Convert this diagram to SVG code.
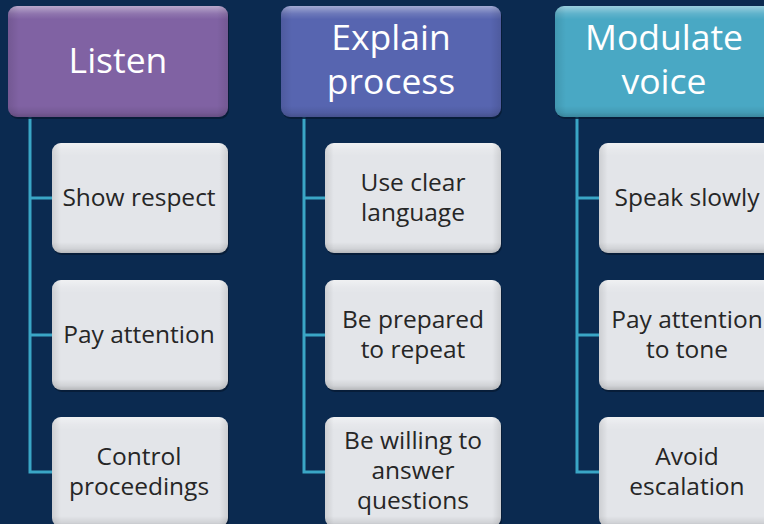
<svg xmlns="http://www.w3.org/2000/svg" width="764" height="524" viewBox="0 0 764 524">
  <defs>
    <!-- bevel overlays shared by all boxes -->
    <linearGradient id="bevelV" x1="0" y1="0" x2="0" y2="1">
      <stop offset="0" stop-color="#ffffff" stop-opacity="0.45"/>
      <stop offset="0.07" stop-color="#ffffff" stop-opacity="0.12"/>
      <stop offset="0.12" stop-color="#ffffff" stop-opacity="0"/>
      <stop offset="0.9" stop-color="#000000" stop-opacity="0"/>
      <stop offset="0.96" stop-color="#000000" stop-opacity="0.08"/>
      <stop offset="1" stop-color="#000000" stop-opacity="0.2"/>
    </linearGradient>
    <linearGradient id="bevelH" x1="0" y1="0" x2="1" y2="0">
      <stop offset="0" stop-color="#000000" stop-opacity="0.1"/>
      <stop offset="0.05" stop-color="#000000" stop-opacity="0"/>
      <stop offset="0.95" stop-color="#000000" stop-opacity="0"/>
      <stop offset="1" stop-color="#000000" stop-opacity="0.1"/>
    </linearGradient>
  </defs>
  <style>
    .bg { fill: #0b2a50; }
    .shadow { fill: #061a33; opacity: 0.8; }
    .bv { fill: url(#bevelV); }
    .bh { fill: url(#bevelH); }
    .child { fill: #e3e5e9; }
    .h1 { fill: #8062a3; }
    .h2 { fill: #5765b0; }
    .h3 { fill: #49a8c4; }
    .htext { font-family: "Open Sans", "Noto Sans", "Liberation Sans", sans-serif; font-size: 35.5px; fill: #ffffff; text-anchor: middle; }
    .ctext { font-family: "Open Sans", "Noto Sans", "Liberation Sans", sans-serif; font-size: 24.5px; fill: #262626; text-anchor: middle; }
    .conn { fill: none; stroke: #3aa6c6; stroke-width: 3; }
  </style>

  <rect class="bg" x="0" y="0" width="764" height="524"/>

  <!-- connectors -->
  <g id="connectors">
    <path class="conn" d="M30,117 V472 H52 M30,198 H52 M30,335 H52"/>
    <path class="conn" d="M304,117 V472 H325 M304,198 H325 M304,335 H325"/>
    <path class="conn" d="M577,117 V472 H599 M577,198 H599 M577,335 H599"/>
  </g>

  <!-- column 1 -->
  <g id="listen">
    <rect class="shadow" x="9" y="8" width="220" height="111" rx="9"/>
    <rect class="h1" x="8" y="6" width="220" height="111" rx="9"/>
    <rect class="bv" x="8" y="6" width="220" height="111" rx="9"/>
    <rect class="bh" x="8" y="6" width="220" height="111" rx="9"/>
    <text class="htext" x="118" y="73">Listen</text>
  </g>
  <g id="show-respect">
    <rect class="shadow" x="53" y="145" width="176" height="110" rx="9"/>
    <rect class="child" x="52" y="143" width="176" height="110" rx="9"/>
    <rect class="bv" x="52" y="143" width="176" height="110" rx="9"/>
    <rect class="bh" x="52" y="143" width="176" height="110" rx="9"/>
    <text class="ctext" x="139" y="206">Show respect</text>
  </g>
  <g id="pay-attention">
    <rect class="shadow" x="53" y="282" width="176" height="110" rx="9"/>
    <rect class="child" x="52" y="280" width="176" height="110" rx="9"/>
    <rect class="bv" x="52" y="280" width="176" height="110" rx="9"/>
    <rect class="bh" x="52" y="280" width="176" height="110" rx="9"/>
    <text class="ctext" x="139" y="343">Pay attention</text>
  </g>
  <g id="control-proceedings">
    <rect class="shadow" x="53" y="419" width="176" height="110" rx="9"/>
    <rect class="child" x="52" y="417" width="176" height="110" rx="9"/>
    <rect class="bv" x="52" y="417" width="176" height="110" rx="9"/>
    <rect class="bh" x="52" y="417" width="176" height="110" rx="9"/>
    <text class="ctext" x="139" y="465">Control</text>
    <text class="ctext" x="139" y="495">proceedings</text>
  </g>

  <!-- column 2 -->
  <g id="explain-process">
    <rect class="shadow" x="282" y="8" width="220" height="111" rx="9"/>
    <rect class="h2" x="281" y="6" width="220" height="111" rx="9"/>
    <rect class="bv" x="281" y="6" width="220" height="111" rx="9"/>
    <rect class="bh" x="281" y="6" width="220" height="111" rx="9"/>
    <text class="htext" x="391" y="50">Explain</text>
    <text class="htext" x="391" y="94">process</text>
  </g>
  <g id="use-clear-language">
    <rect class="shadow" x="326" y="145" width="176" height="110" rx="9"/>
    <rect class="child" x="325" y="143" width="176" height="110" rx="9"/>
    <rect class="bv" x="325" y="143" width="176" height="110" rx="9"/>
    <rect class="bh" x="325" y="143" width="176" height="110" rx="9"/>
    <text class="ctext" x="413" y="191">Use clear</text>
    <text class="ctext" x="413" y="221">language</text>
  </g>
  <g id="be-prepared">
    <rect class="shadow" x="326" y="282" width="176" height="110" rx="9"/>
    <rect class="child" x="325" y="280" width="176" height="110" rx="9"/>
    <rect class="bv" x="325" y="280" width="176" height="110" rx="9"/>
    <rect class="bh" x="325" y="280" width="176" height="110" rx="9"/>
    <text class="ctext" x="413" y="328">Be prepared</text>
    <text class="ctext" x="413" y="358">to repeat</text>
  </g>
  <g id="be-willing">
    <rect class="shadow" x="326" y="419" width="176" height="110" rx="9"/>
    <rect class="child" x="325" y="417" width="176" height="110" rx="9"/>
    <rect class="bv" x="325" y="417" width="176" height="110" rx="9"/>
    <rect class="bh" x="325" y="417" width="176" height="110" rx="9"/>
    <text class="ctext" x="413" y="449">Be willing to</text>
    <text class="ctext" x="413" y="479">answer</text>
    <text class="ctext" x="413" y="509">questions</text>
  </g>

  <!-- column 3 -->
  <g id="modulate-voice">
    <rect class="shadow" x="556" y="8" width="220" height="111" rx="9"/>
    <rect class="h3" x="555" y="6" width="220" height="111" rx="9"/>
    <rect class="bv" x="555" y="6" width="220" height="111" rx="9"/>
    <rect class="bh" x="555" y="6" width="220" height="111" rx="9"/>
    <text class="htext" x="664" y="50">Modulate</text>
    <text class="htext" x="664" y="94">voice</text>
  </g>
  <g id="speak-slowly">
    <rect class="shadow" x="600" y="145" width="176" height="110" rx="9"/>
    <rect class="child" x="599" y="143" width="176" height="110" rx="9"/>
    <rect class="bv" x="599" y="143" width="176" height="110" rx="9"/>
    <rect class="bh" x="599" y="143" width="176" height="110" rx="9"/>
    <text class="ctext" x="687" y="206">Speak slowly</text>
  </g>
  <g id="attention-to-tone">
    <rect class="shadow" x="600" y="282" width="176" height="110" rx="9"/>
    <rect class="child" x="599" y="280" width="176" height="110" rx="9"/>
    <rect class="bv" x="599" y="280" width="176" height="110" rx="9"/>
    <rect class="bh" x="599" y="280" width="176" height="110" rx="9"/>
    <text class="ctext" x="687" y="328">Pay attention</text>
    <text class="ctext" x="687" y="358">to tone</text>
  </g>
  <g id="avoid-escalation">
    <rect class="shadow" x="600" y="419" width="176" height="110" rx="9"/>
    <rect class="child" x="599" y="417" width="176" height="110" rx="9"/>
    <rect class="bv" x="599" y="417" width="176" height="110" rx="9"/>
    <rect class="bh" x="599" y="417" width="176" height="110" rx="9"/>
    <text class="ctext" x="687" y="465">Avoid</text>
    <text class="ctext" x="687" y="495">escalation</text>
  </g>
</svg>
